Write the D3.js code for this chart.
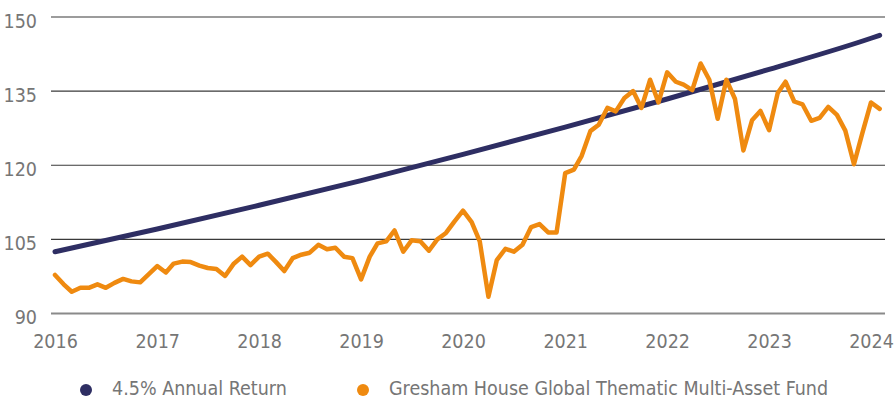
<!DOCTYPE html>
<html><head><meta charset="utf-8">
<script src="https://cdn.jsdelivr.net/npm/d3@7"></script>
<style>
body{margin:0;background:#fff}
text{font-family:'Liberation Sans Narrow','DejaVu Sans Condensed','Roboto',sans-serif;fill:#767676;font-size:19.5px}
</style></head>
<body><svg id="c" width="895" height="400"></svg>
<script>
// ---- data ----
const yearLabels = ["2016","2017","2018","2019","2020","2021","2022","2023","2024"];
const yTicks = [90,105,120,135,150];
const seriesNames = ["4.5% Annual Return","Gresham House Global Thematic Multi-Asset Fund"];
const seriesColors = ["#2e2e63","#ef8a10"];
// 4.5% annual return line, read at each January (plus final point Feb 2024)
const benchDates = ["2016-01","2017-01","2018-01","2019-01","2020-01","2021-01","2022-01","2023-01","2024-01","2024-02"];
const benchValues = [102.4,107.0,111.8,116.8,122.1,127.6,133.3,139.3,145.6,146.2];
// Fund, monthly from Jan 2016
const fundStart = "2016-01";
const fundValues = [
 97.7,95.8,94.3,95.1,95.1,95.8,95.1,96.1,96.9,96.4,96.2,97.8,
 99.5,98.2,100.0,100.4,100.3,99.6,99.1,98.9,97.5,99.9,101.4,99.7,
 101.4,102.0,100.4,98.5,101.1,101.8,102.2,103.8,102.9,103.2,101.4,101.1,
 96.8,101.4,104.1,104.5,106.7,102.4,104.7,104.5,102.6,104.9,106.2,108.5,
 110.7,108.4,104.5,93.3,100.7,103.0,102.4,103.8,107.4,108.0,106.3,106.3,
 118.3,119.0,121.8,126.8,128.1,131.5,130.8,133.5,134.9,131.5,137.2,132.6,
 138.7,136.8,136.2,135.1,140.5,137.2,129.3,137.2,133.3,122.9,129.0,130.9,
 127.0,134.5,136.8,132.8,132.2,128.9,129.5,131.7,130.1,126.9,120.1,126.4,
 132.6,131.3
];

// ---- chart ----
const svg = d3.select("#c");
const parse = d3.timeParse("%Y-%m");
const x = d3.scaleTime().domain([parse("2016-01"), parse("2024-01")]).range([55, 871]);
const y = d3.scaleLinear().domain([90,150]).range([313, 16.5]);
const gridL = 51, gridR = 885;

// gridlines + y labels
const ya = svg.append("g").attr("transform",`translate(${gridL},0)`)
  .call(d3.axisLeft(y).tickValues(yTicks).tickSize(-(gridR-gridL)).tickFormat(d3.format("d")).tickPadding(14));
ya.select(".domain").remove();
ya.selectAll(".tick line").attr("stroke", d => d===90 ? "#8a8a8a" : "#3a3a3a")
  .attr("stroke-width", d => d===90 ? 2 : 1.2);
ya.selectAll(".tick text").attr("dy", "0.55em").style("font-size","19.5px").attr("fill","#767676");

// x labels
const xa = svg.append("g").attr("transform","translate(0,313)")
  .call(d3.axisBottom(x).tickValues(yearLabels.map(s=>d3.timeParse("%Y")(s))).tickSize(0).tickPadding(21).tickFormat(d3.timeFormat("%Y")));
xa.select(".domain").remove();
xa.selectAll(".tick text").style("font-size","19.5px").attr("fill","#767676");

// lines
const bench = benchDates.map((d,i)=>({date:parse(d), value:benchValues[i]}));
const startD = parse(fundStart);
const fund = fundValues.map((v,i)=>({date:d3.timeMonth.offset(startD,i), value:v}));

svg.append("path").datum(bench).attr("fill","none").attr("stroke",seriesColors[0])
  .attr("stroke-width",5).attr("stroke-linecap","round")
  .attr("d", d3.line().x(d=>x(d.date)).y(d=>y(d.value)).curve(d3.curveMonotoneX));
svg.append("path").datum(fund).attr("fill","none").attr("stroke",seriesColors[1])
  .attr("stroke-width",4.5).attr("stroke-linejoin","round").attr("stroke-linecap","round")
  .attr("d", d3.line().x(d=>x(d.date)).y(d=>y(d.value)));

// legend
const legX = [86, 363];
const lg = svg.append("g");
seriesNames.forEach((n,i)=>{
  lg.append("circle").attr("cx",legX[i]).attr("cy",390).attr("r",6).attr("fill",seriesColors[i]);
  lg.append("text").attr("x",legX[i]+26).attr("y",395).text(n).style("font-size","19.5px");
});
</script></body></html>
